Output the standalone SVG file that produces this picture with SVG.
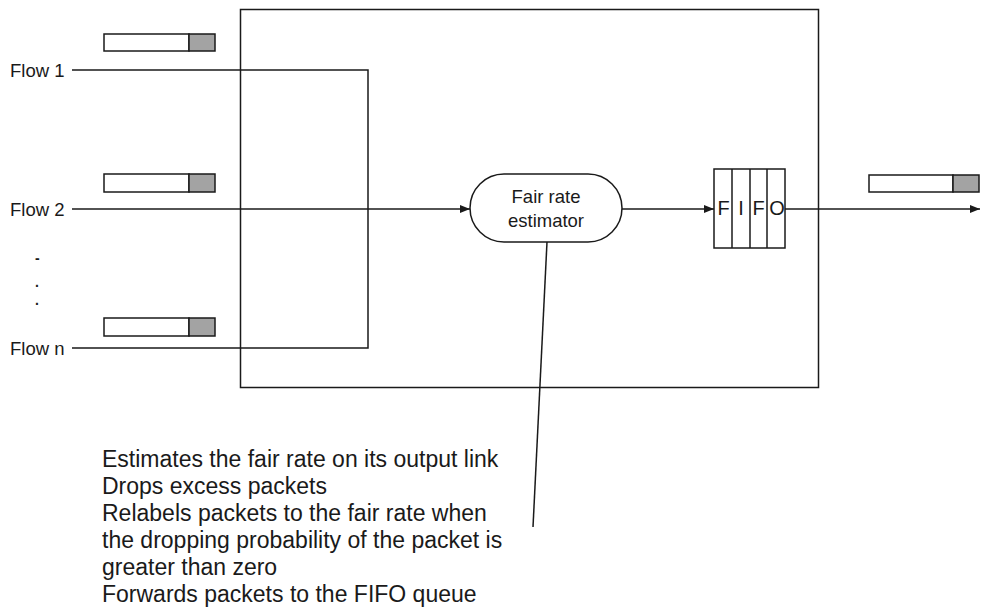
<svg xmlns="http://www.w3.org/2000/svg" width="981" height="607" viewBox="0 0 981 607">
<defs>
<marker id="arr" markerWidth="10" markerHeight="8" refX="10" refY="4" orient="auto" markerUnits="userSpaceOnUse">
<path d="M0,0 L10,4 L0,8 Z" fill="#1a1a1a"/>
</marker>
</defs>
<style>
.ln{stroke:#1a1a1a;stroke-width:1.5;fill:none}
.bx{stroke:#1a1a1a;stroke-width:1.5;fill:#fff}
.sh{stroke:#1a1a1a;stroke-width:1.5;fill:#a3a3a3}
.t{font-family:"Liberation Sans",Arial,sans-serif;fill:#1a1a1a}
.lbl{font-size:18.5px}
.dot{font-size:14px;font-weight:bold}
.big{font-size:23px}
.fifo{font-size:20px}
</style>
<rect width="981" height="607" fill="#fff"/>
<g id="router">
<rect x="240.5" y="9.5" width="578" height="378" class="ln"/>
</g>
<g id="connectors">
<polyline points="72,70 368,70 368,348 72,348" class="ln"/>
<line x1="72" y1="209" x2="470" y2="209" class="ln" marker-end="url(#arr)"/>
<line x1="622" y1="209" x2="714" y2="209" class="ln" marker-end="url(#arr)"/>
<line x1="785" y1="209" x2="980" y2="209" class="ln" marker-end="url(#arr)"/>
<line x1="547" y1="242" x2="533" y2="527" class="ln"/>
</g>
<g id="flow1">
<text x="10" y="77" class="t lbl">Flow 1</text>
<rect x="104" y="34" width="85" height="17" class="bx"/>
<rect x="189" y="34" width="26" height="17" class="sh"/>
</g>
<g id="flow2">
<text x="10" y="216" class="t lbl">Flow 2</text>
<rect x="104" y="174" width="85" height="18" class="bx"/>
<rect x="189" y="174" width="26" height="18" class="sh"/>
</g>
<g id="dots">
<text x="35" y="263" class="t dot">-</text>
<text x="35" y="287" class="t dot">.</text>
<text x="35" y="305" class="t dot">.</text>
</g>
<g id="flown">
<text x="10" y="355" class="t lbl">Flow n</text>
<rect x="104" y="318" width="85" height="18" class="bx"/>
<rect x="189" y="318" width="26" height="18" class="sh"/>
</g>
<g id="estimator">
<rect x="470" y="174" width="152" height="68" rx="34" ry="34" class="bx"/>
<text x="546" y="203" text-anchor="middle" class="t lbl">Fair rate</text>
<text x="546" y="227" text-anchor="middle" class="t lbl">estimator</text>
</g>
<g id="fifo">
<rect x="714" y="169" width="71" height="79" class="bx"/>
<line x1="732" y1="169" x2="732" y2="248" class="ln"/>
<line x1="750" y1="169" x2="750" y2="248" class="ln"/>
<line x1="767" y1="169" x2="767" y2="248" class="ln"/>
<text x="723.5" y="215" text-anchor="middle" class="t fifo">F</text>
<text x="741" y="215" text-anchor="middle" class="t fifo">I</text>
<text x="758.5" y="215" text-anchor="middle" class="t fifo">F</text>
<text x="777" y="215" text-anchor="middle" class="t fifo">O</text>
</g>
<g id="output">
<rect x="869" y="175" width="84" height="17" class="bx"/>
<rect x="953" y="175" width="26" height="17" class="sh"/>
</g>
<g id="note">
<text x="102" y="467" class="t big">Estimates the fair rate on its output link</text>
<text x="102" y="494" class="t big">Drops excess packets</text>
<text x="102" y="521" class="t big">Relabels packets to the fair rate when</text>
<text x="102" y="548" class="t big">the dropping probability of the packet is</text>
<text x="102" y="575" class="t big">greater than zero</text>
<text x="102" y="602" class="t big">Forwards packets to the FIFO queue</text>
</g>
</svg>
